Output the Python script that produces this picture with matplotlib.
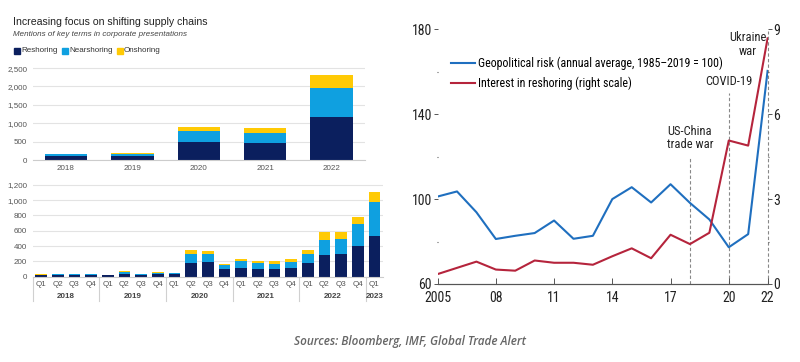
import numpy as np
import matplotlib
matplotlib.use("Agg")
import matplotlib.pyplot as plt
from matplotlib.patches import Rectangle

NARROW = ['Roboto Condensed', 'Archivo Narrow', 'Asap Condensed', 'DejaVu Sans']
plt.rcParams['font.family'] = ['Liberation Sans', 'DejaVu Sans']

# -----------------------------
# data: key term mentions
# -----------------------------
years = ['2018', '2019', '2020', '2021', '2022']
year_reshoring = [110, 100, 500, 450, 1160]
year_nearshoring = [40, 70, 280, 285, 810]
year_onshoring = [15, 20, 120, 130, 345]

quarters = ['Q1', 'Q2', 'Q3', 'Q4'] * 5 + ['Q1']
quarter_years = ['2018', '2019', '2020', '2021', '2022', '2023']
q_reshoring = [20, 25, 25, 28, 18, 40, 25, 30, 30, 180, 195, 95,
               120, 105, 105, 115, 175, 280, 295, 400, 535]
q_nearshoring = [8, 10, 12, 5, 5, 20, 8, 20, 15, 115, 100, 55,
                 80, 70, 65, 75, 120, 200, 195, 285, 435]
q_onshoring = [4, 5, 3, 2, 3, 10, 3, 8, 7, 55, 40, 15,
               35, 35, 30, 35, 50, 100, 100, 95, 135]

# -----------------------------
# data: geopolitical risk vs reshoring interest
# -----------------------------
line_years = list(range(2005, 2023))
geo_risk = [101.2, 103.6, 93.8, 81.2, 82.7, 84.0, 89.9, 81.3, 82.7, 100.0,
            105.6, 98.4, 107.0, 98.2, 90.4, 77.3, 83.5, 160.4]
reshoring_interest = [0.35, 0.57, 0.79, 0.51, 0.47, 0.83, 0.75, 0.75, 0.68, 0.98,
                      1.26, 0.91, 1.74, 1.41, 1.81, 5.07, 4.89, 8.68]

NAVY = '#0b1f5e'
LBLUE = '#0fa0e0'
YELLOW = '#ffca05'
GRID = '#e3e3e3'
TXT = '#555555'
W, H = 800, 362

fig = plt.figure(figsize=(8, 3.62), dpi=100)


def fx(px):
    return px / W


def fy(py):
    return 1 - py / H


# -----------------------------
# left panel header
# -----------------------------
fig.text(fx(13), fy(22), 'Increasing focus on shifting supply chains', fontsize=7.6,
         color='#222222', ha='left', va='center')
fig.text(fx(13), fy(35), 'Mentions of key terms in corporate presentations', fontsize=5.8,
         color='#444444', style='italic', ha='left', va='center')
for name, col, px in [('Reshoring', NAVY, 14), ('Nearshoring', LBLUE, 62), ('Onshoring', YELLOW, 117)]:
    fig.patches.append(Rectangle((fx(px), fy(54)), fx(6), 6 / H, color=col,
                                 transform=fig.transFigure))
    fig.text(fx(px + 7), fy(51), name, fontsize=5.8, color='#333333', ha='left', va='center')


def style_bar_axis(ax):
    for s in ['top', 'right', 'left']:
        ax.spines[s].set_visible(False)
    ax.spines['bottom'].set_color('#cccccc')
    ax.yaxis.grid(True, color=GRID, linewidth=0.8)
    ax.set_axisbelow(True)
    ax.tick_params(axis='y', length=0, labelsize=5.8, labelcolor=TXT, pad=4)
    ax.tick_params(axis='x', length=0, labelsize=5.8, labelcolor=TXT)


# -----------------------------
# annual bars
# -----------------------------
ax1 = fig.add_axes([0.041, 0.558, 0.415, 0.264])
x = np.arange(len(years))
r = np.array(year_reshoring)
n = np.array(year_nearshoring)
o = np.array(year_onshoring)
ax1.bar(x, r, width=0.64, color=NAVY)
ax1.bar(x, n, width=0.64, bottom=r, color=LBLUE)
ax1.bar(x, o, width=0.64, bottom=r + n, color=YELLOW)
ax1.set_xlim(-0.5, len(years) - 0.5)
ax1.set_ylim(0, 2600)
ax1.set_yticks([0, 500, 1000, 1500, 2000, 2500])
ax1.set_yticklabels(['0', '500', '1,000', '1,500', '2,000', '2,500'])
ax1.set_xticks(x)
ax1.set_xticklabels(years)
style_bar_axis(ax1)

# -----------------------------
# quarterly bars
# -----------------------------
ax2 = fig.add_axes([0.041, 0.2356, 0.4375, 0.2646])
xq = np.arange(len(quarters))
qr = np.array(q_reshoring)
qn = np.array(q_nearshoring)
qo = np.array(q_onshoring)
ax2.bar(xq, qr, width=0.7, color=NAVY)
ax2.bar(xq, qn, width=0.7, bottom=qr, color=LBLUE)
ax2.bar(xq, qo, width=0.7, bottom=qr + qn, color=YELLOW)
ax2.set_xlim(-0.5, len(quarters) - 0.5)
ax2.set_ylim(0, 1250)
ax2.set_yticks([0, 200, 400, 600, 800, 1000, 1200])
ax2.set_yticklabels(['0', '200', '400', '600', '800', '1,000', '1,200'])
ax2.set_xticks(xq)
ax2.set_xticklabels(quarters)
style_bar_axis(ax2)
ax2.tick_params(axis='x', pad=3)
trans = ax2.get_xaxis_transform()
for i, yr in enumerate(quarter_years):
    start = i * 4
    stop = min(start + 4, len(quarters))
    ax2.plot([start - 0.5, start - 0.5], [0, -0.25], transform=trans, color='#d0d0d0',
             linewidth=0.8, clip_on=False)
    ax2.text((start + stop - 1) / 2, -0.17, yr, transform=trans, ha='center', va='top',
             fontsize=5.8, fontweight='bold', color='#444444')

# -----------------------------
# right panel: lines
# -----------------------------
ax3 = fig.add_axes([0.547, 0.2155, 0.4125, 0.7036])
ax4 = ax3.twinx()
BLUE = '#1f6fbf'
RED = '#b5243c'
ax3.plot(line_years, geo_risk, color=BLUE, linewidth=1.5,
         label='Geopolitical risk (annual average, 1985\u20132019 = 100)')
ax4.plot(line_years, reshoring_interest, color=RED, linewidth=1.5)
ax3.plot([], [], color=RED, linewidth=1.5, label='Interest in reshoring (right scale)')
ax3.set_xlim(2005, 2022)
ax3.set_ylim(60, 180)
ax4.set_ylim(0, 9)

for ax in (ax3, ax4):
    for s in ['top', 'left', 'right']:
        ax.spines[s].set_visible(False)
    ax.spines['bottom'].set_color('#555555')

ax3.set_yticks([60, 100, 140, 180])
ax3.set_yticks([80, 120, 160], minor=True)
ax4.set_yticks([0, 3, 6, 9])
ax4.set_yticks([1.5, 4.5, 7.5], minor=True)
ax3.tick_params(axis='y', which='major', length=3, width=0.7, color='#555555', pad=1)
ax3.tick_params(axis='y', which='minor', length=1, width=0.8, color='#555555')
ax4.tick_params(axis='y', which='major', length=3, width=0.7, color='#555555', pad=1)
ax4.tick_params(axis='y', which='minor', length=1, width=0.8, color='#555555')
for lab in ax3.get_yticklabels() + ax4.get_yticklabels():
    lab.set_family(NARROW)
    lab.set_fontsize(10)
    lab.set_color('#222222')

ax3.set_xticks([2005, 2008, 2011, 2014, 2017, 2020, 2022])
ax3.set_xticklabels(['2005', '08', '11', '14', '17', '20', '22'])
ax3.tick_params(axis='x', direction='in', length=4, width=0.7, color='#555555', pad=5)
for lab in ax3.get_xticklabels():
    lab.set_family(NARROW)
    lab.set_fontsize(10)
    lab.set_color('#222222')

# event markers
for yr, top in [(2018, 120), (2020, 150), (2022, 179)]:
    ax3.plot([yr, yr], [60, top], color='#888888', linestyle=(0, (3, 2)), linewidth=0.8,
             clip_on=False, zorder=1)
ax3.text(2018, 122.5, 'US-China\ntrade war', ha='center', va='bottom', fontsize=9,
         family=NARROW, color='#222222', linespacing=1.05)
ax3.text(2020, 152.5, 'COVID-19', ha='center', va='bottom', fontsize=9,
         family=NARROW, color='#222222')
ax3.text(2021.0, 166.5, 'Ukraine\nwar', ha='center', va='bottom', fontsize=9,
         family=NARROW, color='#222222', linespacing=1.05)

leg = ax3.legend(loc='upper left', bbox_to_anchor=(0.025, 0.91), frameon=False,
                 prop={'family': NARROW, 'size': 8.6}, handlelength=2.0,
                 handletextpad=0.3, labelspacing=0.55, borderaxespad=0)

# -----------------------------
# source line
# -----------------------------
fig.text(fx(410), fy(342), 'Sources: Bloomberg, IMF, Global Trade Alert', ha='center',
         va='center', fontsize=8.5, style='italic', fontweight='semibold',
         family=['Open Sans', 'DejaVu Sans'], color='#666666')

plt.savefig('out.png')
